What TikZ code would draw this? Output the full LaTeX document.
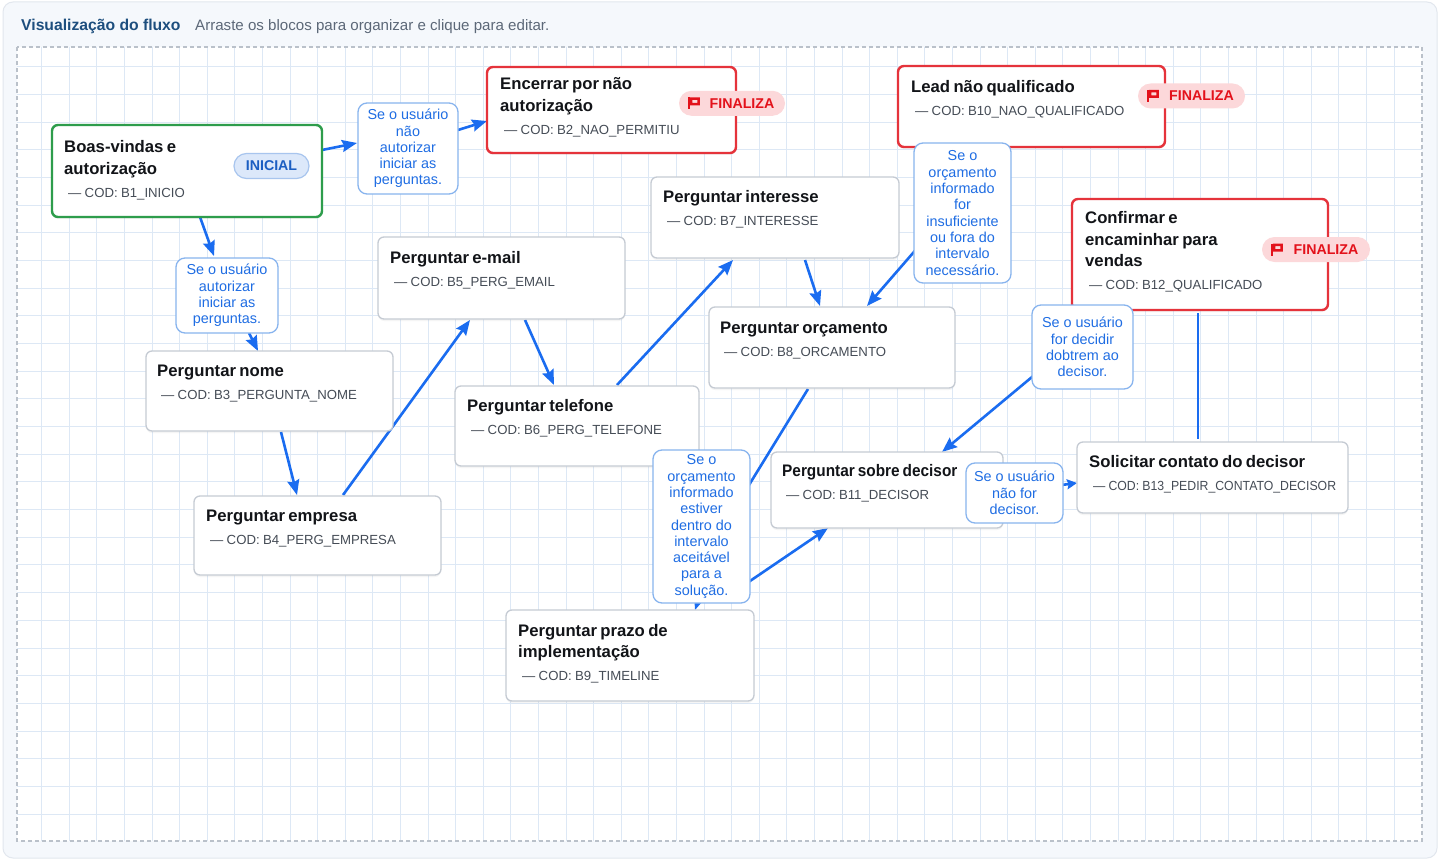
\documentclass[tikz,border=0pt]{standalone}
\usepackage{fontspec}
\setmainfont{Liberation Sans}
\usepackage{xcolor}
\usepackage{graphicx}
\usetikzlibrary{arrows.meta, shadows, calc}

\pgfdeclarelayer{background}
\pgfdeclarelayer{edges}
\pgfsetlayers{background,edges,main}

\definecolor{panelbg}{HTML}{F5F8FC}
\definecolor{panelline}{HTML}{E2E7EE}
\definecolor{canvasline}{HTML}{BAC1CA}
\definecolor{gridblue}{HTML}{DDE8F5}
\definecolor{headblue}{HTML}{1D4E7E}
\definecolor{headgray}{HTML}{5C6878}
\definecolor{boxgray}{HTML}{C5CBD3}
\definecolor{startgreen}{HTML}{2E9D4C}
\definecolor{endred}{HTML}{E5333B}
\definecolor{titleblack}{HTML}{121418}
\definecolor{codgray}{HTML}{454C56}
\definecolor{linkblue}{HTML}{1A6CF0}
\definecolor{lblline}{HTML}{88B4EE}
\definecolor{lbltext}{HTML}{1F6DE3}
\definecolor{inibg}{HTML}{DCE8FA}
\definecolor{iniline}{HTML}{A8C5EE}
\definecolor{initext}{HTML}{1B5EC2}
\definecolor{fimbg}{HTML}{FCD8DA}
\definecolor{fimtext}{HTML}{E3121B}

\newcommand{\ttlf}{\fontsize{16.7}{21.5}\selectfont\bfseries}
\newcommand{\codf}{\fontsize{13.2}{23}\selectfont}
\newcommand{\lblf}{\fontsize{14.4}{16.3}\selectfont}
\newcommand{\tagf}{\fontsize{14.2}{16}\selectfont\bfseries}

\begin{document}
\begin{tikzpicture}[x=1pt, y=-1pt,
    blk/.style={draw=boxgray, line width=1.3pt, fill=white, rounded corners=6pt,
      anchor=north west, inner sep=0pt, outer sep=0pt,
      drop shadow={shadow xshift=0pt, shadow yshift=-2pt, opacity=0.08}},
    inibox/.style={blk, draw=startgreen, line width=2.4pt},
    fimbox/.style={blk, draw=endred, line width=2.4pt},
    txt/.style={anchor=north west, inner sep=0pt, text width=300pt, align=left, text=titleblack},
    lbl/.style={draw=lblline, line width=1.3pt, fill=white, rounded corners=9pt, text=lbltext,
      font=\lblf, align=center, anchor=north west, inner sep=0pt, outer sep=0pt},
    tagini/.style={fill=inibg, draw=iniline, line width=1.2pt, text=initext, font=\tagf,
      rounded corners=12.5pt, minimum height=25pt, inner sep=0pt},
    tagfim/.style={fill=fimbg, text=fimtext, font=\tagf,
      rounded corners=12.5pt, minimum height=25pt, inner sep=0pt},
    link/.style={draw=linkblue, line width=2.6pt, -{Stealth[length=15pt, width=12pt, inset=2pt]}},
    shortlink/.style={draw=linkblue, line width=2.6pt, -{Stealth[length=10pt, width=10pt, inset=1.5pt]}},
    plainlink/.style={draw=linkblue, line width=2.6pt},
    gridline/.style={draw=gridblue, line width=0.9pt},
    flagic/.pic={
      \fill[fimtext] (0,-6) rectangle (2,6);
      \fill[fimtext, even odd rule] (2,-6) -- (12,-6) -- (12,2) -- (2,2) -- cycle
        (4.5,-3.5) rectangle (9.5,-0.5);
    }]
  \useasboundingbox (0,0) rectangle (1440,861);

  % Panel, canvas and grid
  \begin{pgfonlayer}{background}
    \fill[white] (0,0) rectangle (1440,861);
    \draw[fill=panelbg, draw=panelline, line width=1pt, rounded corners=10pt] (3,2) rectangle (1437,858);
    \fill[white] (17,47) rectangle (1422,841);
    \begin{scope}
      \clip (17,47) rectangle (1422,841);
      \foreach \gx in {1,...,50}
      \draw[gridline] ({14.1+27.6*\gx},47) -- ++(0,794);
      \foreach \gy in {0,...,27}
      \draw[gridline] (17,{66.7+27.68*\gy}) -- ++(1405,0);
    \end{scope}
    \draw[canvasline, line width=1.1pt, dash pattern=on 4pt off 3pt] (17,47) rectangle (1422,841);
  \end{pgfonlayer}

  % Header
  \node[anchor=base west, inner sep=0pt, text=headblue, font=\fontsize{15.7}{18}\selectfont\bfseries]
    (titulo) at (21,30.5) {Visualização do fluxo};
  \node[anchor=base west, inner sep=0pt, text=headgray, font=\fontsize{15.1}{18}\selectfont]
    (dica) at (195,30.5) {Arraste os blocos para organizar e clique para editar.};

  % Blocks
  \node[inibox, minimum width=270pt, minimum height=92pt] (boas) at (52,125) {};
  \node[txt] (boasT) at ([shift={(12,15.5)}]boas.north west)
    {{\ttlf Boas-vindas e\\autorização\par}{\codf\color{codgray}\hspace*{4pt}— COD: B1\_INICIO\par}};

  \node[fimbox, minimum width=249pt, minimum height=86pt] (encerrar) at (487,67) {};
  \node[txt] (encerrarT) at ([shift={(13,10.5)}]encerrar.north west)
    {{\ttlf Encerrar por não\\autorização\par}{\codf\color{codgray}\hspace*{4pt}— COD: B2\_NAO\_PERMITIU\par}};

  \node[fimbox, minimum width=267pt, minimum height=81pt] (lead) at (898,66) {};
  \node[txt] (leadT) at ([shift={(13,14.5)}]lead.north west)
    {{\ttlf Lead não qualificado\par}{\codf\color{codgray}\hspace*{4pt}— COD: B10\_NAO\_QUALIFICADO\par}};

  \node[fimbox, minimum width=256pt, minimum height=111pt] (confirmar) at (1072,199) {};
  \node[txt] (confirmarT) at ([shift={(13,12.5)}]confirmar.north west)
    {{\ttlf Confirmar e\\encaminhar para\\vendas\par}{\codf\color{codgray}\hspace*{4pt}— COD: B12\_QUALIFICADO\par}};

  \node[blk, minimum width=247pt, minimum height=80pt] (nome) at (146,351) {};
  \node[txt] (nomeT) at ([shift={(11,13.5)}]nome.north west)
    {{\ttlf Perguntar nome\par}{\codf\color{codgray}\hspace*{4pt}— COD: B3\_PERGUNTA\_NOME\par}};

  \node[blk, minimum width=247pt, minimum height=79pt] (empresa) at (194,496) {};
  \node[txt] (empresaT) at ([shift={(12,14)}]empresa.north west)
    {{\ttlf Perguntar empresa\par}{\codf\color{codgray}\hspace*{4pt}— COD: B4\_PERG\_EMPRESA\par}};

  \node[blk, minimum width=247pt, minimum height=82pt] (email) at (378,237) {};
  \node[txt] (emailT) at ([shift={(12,14.5)}]email.north west)
    {{\ttlf Perguntar e-mail\par}{\codf\color{codgray}\hspace*{4pt}— COD: B5\_PERG\_EMAIL\par}};

  \node[blk, minimum width=244pt, minimum height=80pt] (telefone) at (455,386) {};
  \node[txt] (telefoneT) at ([shift={(12,13)}]telefone.north west)
    {{\ttlf Perguntar telefone\par}{\codf\color{codgray}\hspace*{4pt}— COD: B6\_PERG\_TELEFONE\par}};

  \node[blk, minimum width=248pt, minimum height=81pt] (interesse) at (651,177) {};
  \node[txt] (interesseT) at ([shift={(12,13.5)}]interesse.north west)
    {{\ttlf Perguntar interesse\par}{\codf\color{codgray}\hspace*{4pt}— COD: B7\_INTERESSE\par}};

  \node[blk, minimum width=246pt, minimum height=81pt] (orcamento) at (709,307) {};
  \node[txt] (orcamentoT) at ([shift={(11,15)}]orcamento.north west)
    {{\ttlf Perguntar orçamento\par}{\codf\color{codgray}\hspace*{4pt}— COD: B8\_ORCAMENTO\par}};

  \node[blk, minimum width=248pt, minimum height=91pt] (prazo) at (506,610) {};
  \node[txt] (prazoT) at ([shift={(12,14)}]prazo.north west)
    {{\ttlf Perguntar prazo de\\implementação\par}{\codf\color{codgray}\hspace*{4pt}— COD: B9\_TIMELINE\par}};

  \node[blk, minimum width=232pt, minimum height=76pt] (decisor) at (771,452) {};
  \node[txt] (decisorT) at ([shift={(11,12)}]decisor.north west)
    {{\ttlf\scalebox{0.92}[1]{Perguntar sobre decisor}\par}{\codf\color{codgray}\hspace*{4pt}— COD: B11\_DECISOR\par}};

  \node[blk, minimum width=271pt, minimum height=71pt] (contato) at (1077,442) {};
  \node[txt] (contatoT) at ([shift={(12,13)}]contato.north west)
    {{\ttlf Solicitar contato do decisor\par}{\codf\color{codgray}\hspace*{4pt}\scalebox{0.93}[1]{— COD: B13\_PEDIR\_CONTATO\_DECISOR}\par}};

  % Badges
  \node[tagini, minimum width=75pt] (iniB1) at (271.5,166) {INICIAL};
  \node[tagfim, minimum width=106pt] (fimB2) at (732,103.3) {\hspace*{20pt}FINALIZA};
  \pic at ([shift={(9,0)}]fimB2.west) {flagic};
  \node[tagfim, minimum width=107pt] (fimB10) at (1191.5,96) {\hspace*{20pt}FINALIZA};
  \pic at ([shift={(9,0)}]fimB10.west) {flagic};
  \node[tagfim, minimum width=108pt] (fimB12) at (1316,249.5) {\hspace*{20pt}FINALIZA};
  \pic at ([shift={(9,0)}]fimB12.west) {flagic};

  % Conditions
  \node[lbl, minimum width=100pt, minimum height=91pt] (lblNaoAut) at (358,103)
    {Se o usuário\\não\\autorizar\\iniciar as\\perguntas.};
  \node[lbl, minimum width=102pt, minimum height=75pt] (lblAut) at (176,258)
    {Se o usuário\\autorizar\\iniciar as\\perguntas.};
  \node[lbl, minimum width=97pt, minimum height=140pt] (lblInsuf) at (914,143)
    {Se o\\orçamento\\informado\\for\\insuficiente\\ou fora do\\intervalo\\necessário.};
  \node[lbl, minimum width=101pt, minimum height=84pt] (lblDecide) at (1032,305)
    {Se o usuário\\for decidir\\dobtrem ao\\decisor.};
  \node[lbl, minimum width=97pt, minimum height=153pt] (lblDentro) at (653,450)
    {Se o\\orçamento\\informado\\estiver\\dentro do\\intervalo\\aceitável\\para a\\solução.};
  \node[lbl, minimum width=97pt, minimum height=60pt] (lblNaoDec) at (966,463)
    {Se o usuário\\não for\\decisor.};

  % Edges
  \begin{pgfonlayer}{edges}
    \draw[link] ([shift={(0,25)}]boas.north east) -- ([shift={(-1,40)}]lblNaoAut.north west);
    \draw[link] ([shift={(0,27)}]lblNaoAut.north east) -- ([shift={(0,54)}]encerrar.north west);
    \draw[link] ([shift={(148,0)}]boas.south west) -- ([shift={(38,-2)}]lblAut.north west);
    \draw[link] ([shift={(73,0)}]lblAut.south west) -- ([shift={(112,0)}]nome.north west);
    \draw[link] ([shift={(135,1)}]nome.south west) -- ([shift={(103,-1)}]empresa.north west);
    \draw[link] ([shift={(149,-1)}]empresa.north west) -- ([shift={(92,1)}]email.south west);
    \draw[link] ([shift={(147,1)}]email.south west) -- ([shift={(99,-1)}]telefone.north west);
    \draw[link] ([shift={(162,-1)}]telefone.north west) -- ([shift={(82,2)}]interesse.south west);
    \draw[link] ([shift={(154,2)}]interesse.south west) -- ([shift={(111,-1)}]orcamento.north west);
    \draw[link] ([shift={(107,0)}]lead.south west) -- ([shift={(158,-1)}]orcamento.north west);
    \draw[link] ([shift={(99,1)}]orcamento.south west) -- ([shift={(22,0)}]lblDentro.center)
      -- ([shift={(189,0)}]prazo.north west);
    \draw[link] ([shift={(72,-5)}]lblDentro.south west) -- ([shift={(57,0)}]decisor.south west);
    \draw[link] ([shift={(38,2)}]confirmar.south west) -- ([shift={(171,0)}]decisor.north west);
    \draw[plainlink] ([shift={(126,3)}]confirmar.south west) -- ([shift={(121,-3)}]contato.north west);
    \draw[shortlink] ([shift={(-20,43)}]decisor.north east) -- ([shift={(0,41)}]contato.north west);
  \end{pgfonlayer}
\end{tikzpicture}
\end{document}
